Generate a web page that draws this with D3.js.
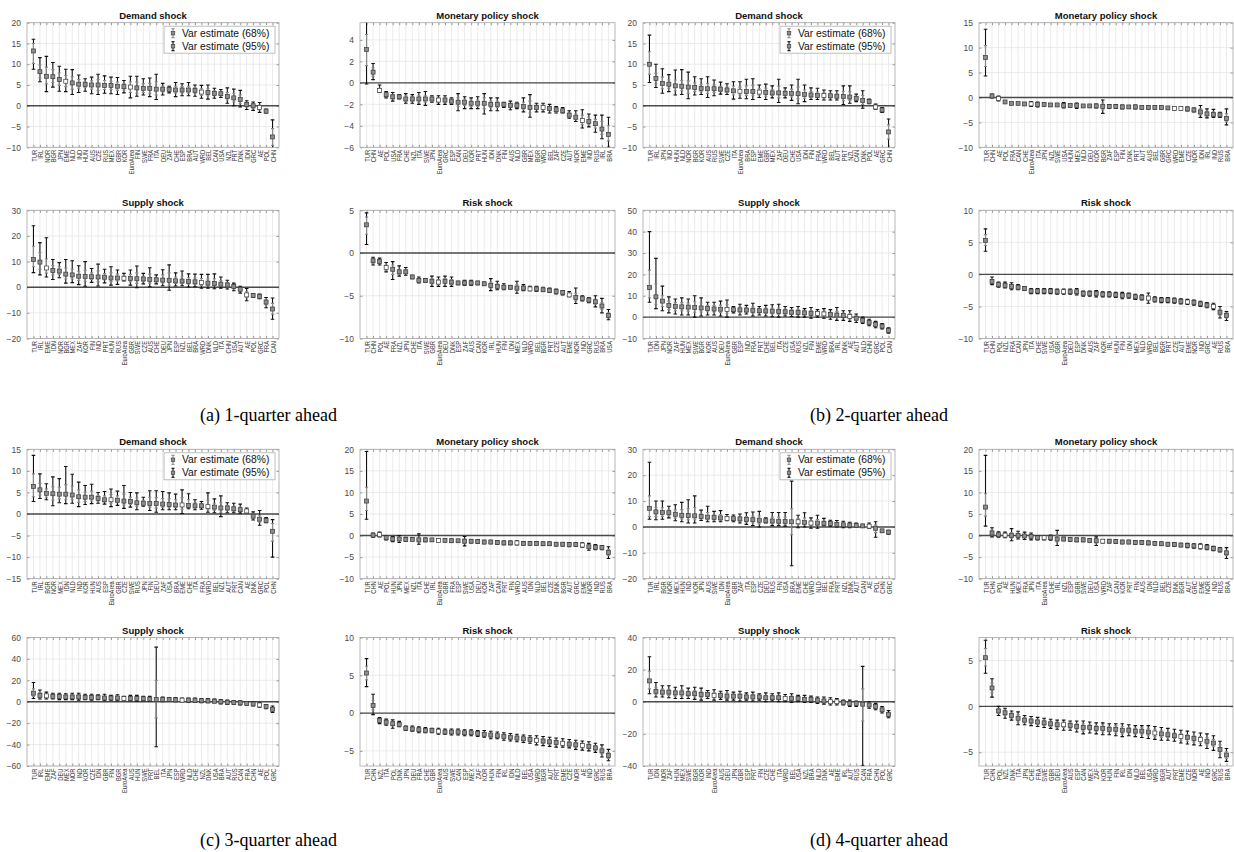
<!DOCTYPE html>
<html><head><meta charset="utf-8">
<script src="https://cdn.jsdelivr.net/npm/d3@7"></script>
<style>body{margin:0;background:#fff}svg{display:block}</style>
</head><body>
<svg id="c" width="1234" height="852"></svg>
<script>
// ---------------- DATA ----------------
// (a) 1-quarter ahead
const a_dem_cty = ["TUR","IRL","NOR","BGR","JPN","EME","NLD","IND","HUN","AUS","CZE","RUS","MEX","GBR","KOR","EuroArea","FIN","SWE","FRA","ITA","DEU","ZAF","CHE","ESP","BRA","AUT","WRD","BEL","CAN","USA","NZL","PRT","DNK","IDN","GRC","AE","POL","CHN"];
const a_dem_est = [13.2,8.2,7.1,7.0,6.3,5.9,5.5,5.2,5.1,5.0,5.0,4.9,4.9,4.7,4.6,4.5,4.3,4.2,4.2,4.0,4.0,3.9,3.8,3.8,3.8,3.7,3.3,3.2,3.0,2.9,2.2,1.9,1.5,0.3,0.0,-0.4,-1.3,-7.5];
const a_dem_lo95 = [8.8,5.8,3.4,4.5,3.5,3.4,2.7,3.2,3.5,2.9,2.7,3.0,2.9,2.7,3.1,1.9,2.3,2.6,2.2,1.5,2.6,3.1,2.2,2.4,2.4,2.3,1.8,1.6,1.8,2.0,0.6,0.0,-0.3,-0.9,-1.1,-1.6,-1.7,-10.5];
const a_dem_hi95 = [16.0,11.6,11.9,10.4,9.5,8.8,8.7,7.4,6.5,6.9,7.6,7.2,6.9,6.8,6.1,7.1,7.1,6.5,6.7,7.6,5.4,4.7,5.6,5.3,5.6,5.0,4.9,5.0,4.2,3.9,4.3,4.0,3.7,1.2,0.9,0.8,-0.8,-3.4];
const a_dem_lo68 = [10.2,6.7,5.3,5.6,4.9,4.6,4.0,4.2,4.4,4.0,3.7,3.9,3.9,3.7,3.8,3.2,3.0,3.2,3.0,2.6,3.3,3.5,3.0,3.1,3.0,3.0,2.5,2.4,2.4,2.4,1.4,0.9,0.5,-0.3,-0.6,-1.0,-1.5,-9.5];
const a_dem_hi68 = [15.0,9.8,9.3,8.7,7.9,7.3,7.0,6.3,5.8,6.0,6.3,6.1,5.9,5.7,5.3,5.8,5.7,5.3,5.4,5.8,4.7,4.3,4.7,4.6,4.7,4.4,4.1,4.1,3.6,3.4,3.2,3.0,2.6,0.8,0.5,0.2,-1.0,-5.5];

const a_mon_cty = ["TUR","CHN","AE","POL","USA","FRA","CHE","NZL","ITA","SWE","JPN","EuroArea","GRC","ESP","CAN","DEU","KOR","PRT","HUN","IDN","DNK","FIN","AUS","NLD","GBR","MEX","BGR","WRD","BEL","ZAF","CZE","AUT","NOR","EME","IND","RUS","IRL","BRA"];
const a_mon_est = [3.1,1.0,-0.7,-1.1,-1.3,-1.3,-1.5,-1.5,-1.5,-1.5,-1.5,-1.6,-1.6,-1.7,-1.8,-1.8,-1.9,-1.9,-1.9,-2.0,-2.0,-2.0,-2.1,-2.1,-2.2,-2.3,-2.3,-2.3,-2.4,-2.5,-2.6,-3.0,-3.2,-3.5,-3.6,-3.8,-4.3,-4.8];
const a_mon_lo95 = [-0.1,0.3,-0.9,-1.4,-1.7,-1.5,-1.9,-1.9,-2.0,-2.1,-1.8,-2.0,-2.0,-2.0,-2.6,-2.4,-2.4,-2.4,-2.9,-2.6,-2.6,-2.3,-2.5,-2.4,-2.7,-3.2,-2.7,-2.7,-2.8,-2.8,-2.8,-3.3,-3.6,-4.2,-4.1,-4.6,-5.2,-6.0];
const a_mon_hi95 = [5.8,1.8,-0.2,-0.8,-0.9,-1.1,-1.0,-1.1,-0.9,-0.8,-1.2,-1.2,-1.2,-1.4,-1.0,-1.3,-1.4,-1.3,-1.0,-1.4,-1.4,-1.8,-1.7,-1.8,-1.4,-1.1,-1.9,-1.9,-2.0,-2.2,-2.3,-2.6,-2.6,-2.5,-2.9,-3.0,-3.0,-3.2];
const a_mon_lo68 = [1.6,0.6,-0.8,-1.3,-1.5,-1.4,-1.7,-1.7,-1.8,-1.8,-1.7,-1.8,-1.8,-1.9,-2.2,-2.1,-2.2,-2.2,-2.4,-2.3,-2.3,-2.2,-2.3,-2.3,-2.5,-2.8,-2.5,-2.5,-2.6,-2.7,-2.7,-3.2,-3.4,-3.9,-3.9,-4.2,-4.8,-5.4];
const a_mon_hi68 = [4.5,1.4,-0.5,-0.9,-1.1,-1.2,-1.2,-1.3,-1.2,-1.2,-1.3,-1.4,-1.4,-1.5,-1.4,-1.5,-1.6,-1.6,-1.4,-1.7,-1.7,-1.9,-1.9,-1.9,-1.8,-1.7,-2.1,-2.1,-2.2,-2.3,-2.4,-2.8,-2.9,-3.0,-3.2,-3.4,-3.6,-4.0];

const a_sup_cty = ["TUR","IRL","EME","IDN","NOR","BGR","MEX","ZAF","KOR","FIN","IND","PRT","HUN","RUS","EuroArea","GBR","SWE","CZE","AUS","CHE","DEU","JPN","ESP","NZL","BEL","BRA","WRD","DNK","NLD","ITA","CHN","USA","AUT","AE","POL","GRC","FRA","CAN"];
const a_sup_est = [10.8,9.8,7.5,6.5,6.3,5.1,4.8,4.3,4.2,4.1,4.0,3.9,3.6,3.6,3.5,3.4,3.3,3.2,3.0,2.9,2.8,2.7,2.5,2.4,2.2,2.1,1.8,1.6,1.5,1.2,0.9,0.3,-0.8,-3.0,-3.2,-3.6,-5.8,-8.5];
const a_sup_lo95 = [5.7,4.8,4.0,3.0,3.7,1.6,1.8,1.0,0.4,1.9,0.5,1.7,0.8,1.1,2.4,0.8,-0.2,1.3,0.2,1.3,0.6,-1.2,0.5,0.6,0.1,0.2,-0.4,-0.4,-0.6,-0.4,-0.7,-1.4,-2.3,-5.3,-4.0,-4.5,-8.0,-12.5];
const a_sup_hi95 = [24.0,17.4,19.3,10.8,9.6,10.8,10.3,8.4,10.0,7.3,9.0,7.0,8.0,6.7,5.4,6.7,8.3,5.4,7.6,4.8,6.8,8.7,5.6,6.3,5.2,5.1,5.0,5.0,5.2,4.0,2.7,1.6,0.4,-0.5,-2.5,-2.7,-4.0,-4.2];
const a_sup_lo68 = [8.0,7.0,5.5,4.8,5.0,3.2,3.2,2.6,2.3,3.0,2.2,2.8,2.2,2.4,2.9,2.1,1.5,2.2,1.6,2.1,1.7,0.8,1.5,1.5,1.2,1.2,0.7,0.6,0.5,0.4,0.1,-0.6,-1.5,-4.1,-3.6,-4.0,-6.8,-10.5];
const a_sup_hi68 = [16.0,13.5,11.0,8.5,8.0,7.5,7.0,6.2,6.6,5.6,6.3,5.3,5.6,5.1,4.4,5.0,5.6,4.3,5.1,3.8,4.8,5.6,4.0,4.3,3.7,3.6,3.4,3.2,3.3,2.6,1.8,1.0,-0.2,-1.8,-2.8,-3.1,-4.9,-6.3];

const a_risk_cty = ["TUR","CHN","POL","AE","FRA","NZL","JPN","CHE","ITA","SWE","GBR","EuroArea","DEU","DNK","ESP","ZAF","AUS","CAN","KOR","IRL","HUN","FIN","IDN","MEX","NLD","WRD","BEL","BGR","PRT","CZE","AUT","EME","NOR","IND","GRC","RUS","BRA","USA"];
const a_risk_est = [3.3,-0.9,-1.0,-1.7,-1.9,-2.2,-2.2,-2.8,-3.2,-3.2,-3.3,-3.4,-3.3,-3.4,-3.5,-3.5,-3.5,-3.5,-3.6,-3.8,-3.9,-4.0,-4.0,-4.1,-4.1,-4.2,-4.2,-4.3,-4.4,-4.5,-4.6,-4.9,-5.2,-5.3,-5.5,-5.7,-6.2,-7.3];
const a_risk_lo95 = [1.0,-1.4,-1.4,-2.2,-3.1,-2.7,-2.6,-3.0,-3.5,-3.4,-3.9,-3.9,-3.9,-3.9,-3.7,-3.8,-3.8,-3.7,-3.8,-4.4,-4.3,-4.3,-4.2,-4.7,-4.4,-4.4,-4.5,-4.5,-4.6,-4.8,-4.9,-5.1,-5.9,-5.6,-5.8,-6.3,-7.0,-7.8];
const a_risk_hi95 = [4.7,-0.5,-0.6,-1.1,-1.0,-1.5,-1.7,-2.6,-2.8,-3.0,-2.7,-2.8,-2.7,-2.8,-3.3,-3.2,-3.2,-3.3,-3.4,-3.0,-3.3,-3.6,-3.8,-3.3,-3.7,-3.9,-3.9,-4.0,-4.1,-4.2,-4.4,-4.5,-4.1,-5.0,-5.2,-5.0,-5.3,-6.6];
const a_risk_lo68 = [2.2,-1.2,-1.2,-2.0,-2.5,-2.5,-2.4,-2.9,-3.4,-3.3,-3.6,-3.7,-3.6,-3.7,-3.6,-3.7,-3.7,-3.6,-3.7,-4.1,-4.1,-4.2,-4.1,-4.4,-4.3,-4.3,-4.4,-4.4,-4.5,-4.7,-4.8,-5.0,-5.6,-5.5,-5.7,-6.0,-6.6,-7.6];
const a_risk_hi68 = [4.2,-0.7,-0.8,-1.4,-1.4,-1.9,-2.0,-2.7,-3.0,-3.1,-3.0,-3.1,-3.0,-3.1,-3.4,-3.3,-3.3,-3.4,-3.5,-3.4,-3.6,-3.8,-3.9,-3.7,-3.9,-4.0,-4.0,-4.1,-4.2,-4.3,-4.5,-4.7,-4.7,-5.1,-5.3,-5.4,-5.8,-7.0];

// (b) 2-quarter ahead
const b_dem_cty = ["TUR","IRL","JPN","IND","HUN","NLD","NOR","BGR","KOR","AUS","RUS","SWE","CZE","ITA","EuroArea","BRA","ESP","EME","GBR","MEX","ZAF","DEU","CHE","USA","IDN","FIN","FRA","WRD","BEL","AUT","PRT","NZL","CAN","DNK","POL","AE","GRC","CHN"];
const b_dem_est = [10.0,6.6,5.4,5.2,4.8,4.7,4.5,4.4,4.2,4.1,4.1,4.0,3.8,3.6,3.5,3.4,3.4,3.3,3.2,3.1,3.1,3.0,3.0,2.9,2.7,2.6,2.5,2.5,2.4,2.3,2.2,2.1,1.8,1.3,1.0,-0.3,-1.0,-6.3];
const b_dem_lo95 = [5.6,4.4,3.0,3.4,2.6,2.7,1.7,2.6,2.7,2.0,2.4,2.8,2.7,1.6,1.8,1.7,1.5,2.0,1.5,1.9,0.8,1.9,1.3,0.5,1.0,1.5,1.5,1.4,1.4,1.4,0.3,0.6,1.0,-0.6,0.5,-0.8,-1.6,-10.5];
const b_dem_hi95 = [17.0,10.0,8.9,7.5,8.6,8.7,8.1,7.0,6.5,7.0,6.2,5.7,5.3,5.8,5.8,6.4,6.5,5.0,5.2,4.8,6.4,4.3,5.0,6.4,5.0,4.3,4.2,3.8,3.6,3.6,4.8,4.8,2.8,3.6,1.6,0.4,-0.4,-3.2];
const b_dem_lo68 = [7.6,5.3,4.1,4.2,3.6,3.6,3.0,3.4,3.4,3.0,3.2,3.4,3.2,2.6,2.6,2.5,2.4,2.6,2.3,2.5,1.9,2.4,2.1,1.7,1.8,2.0,2.0,1.9,1.9,1.8,1.2,1.3,1.4,0.3,0.7,-0.5,-1.3,-8.0];
const b_dem_hi68 = [13.0,7.8,6.9,6.2,6.2,6.1,6.0,5.5,5.2,5.4,5.0,4.7,4.5,4.7,4.5,4.8,4.9,4.1,4.2,3.9,4.7,3.6,4.0,4.5,3.8,3.4,3.3,3.1,3.0,2.9,3.5,3.4,2.3,2.5,1.3,0.1,-0.7,-4.6];

const b_mon_cty = ["TUR","CHN","AE","POL","FRA","CAN","CHE","EuroArea","ITA","JPN","NZL","SWE","USA","HUN","MEX","NLD","DEU","KOR","BGR","ZAF","ESP","FIN","DNK","PRT","AUT","AUS","BEL","GBR","GRC","WRD","EME","CZE","NOR","IDN","IRL","IND","RUS","BRA"];
const b_mon_est = [8.0,0.3,-0.2,-0.9,-1.2,-1.2,-1.3,-1.3,-1.4,-1.4,-1.5,-1.5,-1.6,-1.6,-1.6,-1.7,-1.7,-1.7,-1.8,-1.8,-1.8,-1.9,-1.9,-1.9,-2.0,-2.0,-2.0,-2.0,-2.1,-2.2,-2.2,-2.3,-2.5,-2.9,-3.3,-3.4,-3.5,-4.2];
const b_mon_lo95 = [4.3,-0.1,-0.7,-1.1,-1.4,-1.4,-1.5,-1.8,-1.9,-1.7,-1.8,-1.8,-2.1,-1.9,-2.2,-2.0,-2.0,-2.1,-3.2,-2.2,-2.2,-2.3,-2.2,-2.3,-2.3,-2.3,-2.3,-2.3,-2.4,-2.5,-2.5,-2.7,-2.9,-4.0,-4.1,-4.0,-4.0,-5.5];
const b_mon_hi95 = [13.7,0.7,0.3,-0.7,-1.0,-1.0,-1.0,-0.8,-0.9,-1.1,-1.2,-1.2,-1.0,-1.3,-1.1,-1.4,-1.4,-1.3,-0.5,-1.4,-1.4,-1.5,-1.6,-1.5,-1.7,-1.7,-1.7,-1.7,-1.8,-1.9,-1.9,-1.9,-2.1,-1.6,-2.3,-2.4,-3.0,-2.3];
const b_mon_lo68 = [6.2,0.1,-0.5,-1.0,-1.3,-1.3,-1.4,-1.6,-1.7,-1.6,-1.7,-1.7,-1.9,-1.8,-1.9,-1.9,-1.9,-1.9,-2.5,-2.0,-2.0,-2.1,-2.1,-2.1,-2.2,-2.2,-2.2,-2.2,-2.3,-2.4,-2.4,-2.5,-2.7,-3.5,-3.7,-3.7,-3.8,-4.9];
const b_mon_hi68 = [10.4,0.5,0.1,-0.8,-1.1,-1.1,-1.2,-1.0,-1.1,-1.2,-1.3,-1.3,-1.3,-1.4,-1.3,-1.5,-1.5,-1.5,-1.1,-1.6,-1.6,-1.7,-1.7,-1.7,-1.8,-1.8,-1.8,-1.8,-1.9,-2.0,-2.0,-2.1,-2.3,-2.3,-2.8,-2.9,-3.2,-3.3];

const b_sup_cty = ["TUR","IDN","JPN","NOR","ZAF","HUN","MEX","SWE","BGR","KOR","AUS","DEU","EuroArea","GBR","ESP","IND","FRA","PRT","CHE","BEL","ITA","CZE","USA","RUS","NZL","FIN","EME","WRD","BRA","IRL","DNK","AE","AUT","NLD","CHN","GRC","POL","CAN"];
const b_sup_est = [13.8,9.5,7.5,5.5,5.0,4.8,4.7,4.5,4.3,4.0,3.8,3.7,3.6,3.5,3.4,3.3,3.2,3.0,2.9,2.8,2.7,2.5,2.3,2.2,2.0,1.8,1.7,1.5,1.2,1.0,0.8,0.3,-0.5,-1.5,-2.5,-3.5,-4.2,-6.2];
const b_sup_lo95 = [7,4,3,2,1.5,1,1,0,0.5,1,1,0.5,0,2,1,1.5,0.5,1,0.5,0.2,0,0.5,0.3,0,0,-0.5,0,-0.5,-1,-1.5,-1.5,-2,-2.5,-3,-4,-5,-5.5,-7.5];
const b_sup_hi95 = [40,27.5,14.5,9.5,8.5,9,8.5,10,9,7,7,7.5,8,5,6,5.5,6.5,5,5.5,5.8,6,5,4.5,5,4,4.5,3.5,4,3.5,4.5,3,3,1.5,0,-1,-2,-3,-5];
const b_sup_lo68 = [9,6,5,3.5,3,3,2.8,2.3,2.4,2.5,2.4,2.1,1.8,2.7,2.2,2.4,1.8,2,1.7,1.5,1.4,1.5,1.3,1.1,1,0.7,0.8,0.5,0.1,-0.2,-0.3,-0.8,-1.5,-2.2,-3.2,-4.2,-4.8,-6.8];
const b_sup_hi68 = [22,15.5,10,7.5,6.8,6.8,6.6,7.2,6.6,5.5,5.4,5.6,5.8,4.2,4.7,4.4,4.8,4,4.2,4.3,4.3,3.7,3.4,3.6,3,3.1,2.6,2.7,2.3,2.7,1.9,1.6,0.5,-0.7,-1.7,-2.7,-3.6,-5.6];

const b_risk_cty = ["TUR","CHN","POL","NZL","FRA","CAN","JPN","ITA","CHE","SWE","USA","GBR","EuroArea","DEU","ESP","DNK","AUS","ZAF","KOR","IRL","HUN","FIN","IDN","MEX","NLD","WRD","BEL","BGR","PRT","CZE","AUT","EME","NOR","IND","GRC","AE","RUS","BRA"];
const b_risk_est = [5.3,-1.1,-1.6,-1.7,-1.9,-2.0,-2.2,-2.6,-2.6,-2.6,-2.6,-2.7,-2.7,-2.7,-2.7,-3.0,-3.0,-3.0,-3.1,-3.1,-3.2,-3.3,-3.3,-3.5,-3.6,-3.7,-3.9,-4.0,-4.0,-4.1,-4.2,-4.3,-4.4,-4.6,-4.8,-5.0,-5.9,-6.4];
const b_risk_lo95 = [3.6,-1.6,-2.0,-2.1,-2.4,-2.4,-2.5,-3.0,-3.0,-3.0,-3.0,-3.1,-3.1,-3.1,-3.2,-3.4,-3.4,-3.5,-3.5,-3.5,-3.6,-3.8,-3.7,-3.9,-4.0,-4.5,-4.3,-4.4,-4.4,-4.5,-4.6,-4.7,-4.8,-5.0,-5.2,-5.5,-6.8,-7.2];
const b_risk_hi95 = [7.1,-0.4,-1.2,-1.2,-1.3,-1.6,-1.9,-2.2,-2.2,-2.2,-2.2,-2.3,-2.3,-2.3,-2.2,-2.6,-2.6,-2.5,-2.7,-2.7,-2.8,-2.8,-2.9,-3.1,-3.2,-2.9,-3.5,-3.6,-3.6,-3.7,-3.8,-3.9,-4.0,-4.2,-4.4,-4.5,-5.0,-5.8];
const b_risk_lo68 = [4.5,-1.4,-1.8,-1.9,-2.2,-2.2,-2.4,-2.8,-2.8,-2.8,-2.8,-2.9,-2.9,-2.9,-3.0,-3.2,-3.2,-3.3,-3.3,-3.3,-3.4,-3.6,-3.5,-3.7,-3.8,-4.1,-4.1,-4.2,-4.2,-4.3,-4.4,-4.5,-4.6,-4.8,-5.0,-5.3,-6.4,-6.8];
const b_risk_hi68 = [6.2,-0.8,-1.4,-1.5,-1.6,-1.8,-2.0,-2.4,-2.4,-2.4,-2.4,-2.5,-2.5,-2.5,-2.4,-2.8,-2.8,-2.7,-2.9,-2.9,-3.0,-3.0,-3.1,-3.3,-3.4,-3.3,-3.7,-3.8,-3.8,-3.9,-4.0,-4.1,-4.2,-4.4,-4.6,-4.7,-5.4,-6.0];

// (c) 3-quarter ahead
const c_dem_cty = ["TUR","IRL","BGR","NOR","MEX","IDN","NLD","IND","KOR","HUN","AUS","ESP","EuroArea","GBR","CZE","SWE","RUS","JPN","FIN","DEU","ZAF","USA","BRA","EME","CHE","ITA","FRA","WRD","BEL","NZL","AUT","PRT","CAN","AE","DNK","GRC","POL","CHN"];
const c_dem_est = [6.4,5.6,4.8,4.7,4.6,4.6,4.4,4.0,3.9,3.9,3.6,3.3,3.3,3.2,3.0,2.9,2.6,2.5,2.4,2.4,2.3,2.2,2.1,2.1,2.0,1.9,1.9,1.7,1.6,1.4,1.4,1.2,1.0,0.7,-0.5,-1.2,-1.5,-4.0];
const c_dem_lo95 = [2.9,3.6,3.3,1.9,2.6,2.4,2.5,1.7,2.2,2.4,2.5,2.3,1.7,2.0,1.3,1.6,1.0,1.8,0.8,0.4,1.0,1.0,1.0,0.1,1.2,1.0,1.1,0.4,0.3,-0.6,0.3,0.3,0.2,0.3,-1.4,-2.6,-2.0,-10.0];
const c_dem_hi95 = [13.6,9.3,7.0,8.6,8.2,11.0,9.2,7.4,6.6,6.9,5.0,5.2,5.8,5.3,6.6,5.0,4.9,3.9,5.4,5.4,5.2,4.9,4.6,5.6,4.7,3.3,2.9,4.9,3.5,4.2,2.6,2.5,2.3,1.4,0.5,0.8,-0.8,-1.3];
const c_dem_lo68 = [4.0,4.4,3.9,3.2,3.5,3.3,3.3,2.7,2.9,3.0,3.0,2.8,2.5,2.6,2.1,2.2,1.8,2.1,1.6,1.4,1.6,1.6,1.5,1.1,1.6,1.4,1.5,1.0,0.9,0.4,0.8,0.7,0.6,0.5,-1.0,-1.9,-1.8,-6.3];
const c_dem_hi68 = [9.3,7.1,5.8,6.3,6.2,6.8,6.5,5.6,5.1,5.3,4.3,4.2,4.5,4.2,4.6,3.9,3.7,3.2,3.9,3.8,3.6,3.5,3.3,3.8,3.3,2.6,2.4,3.2,2.5,2.6,2.0,1.8,1.6,1.0,0.0,-0.3,-1.2,-2.2];

const c_mon_cty = ["TUR","CHN","AE","POL","HUN","JPN","MEX","NZL","ITA","CHE","IRL","EuroArea","GBR","FRA","ESP","SWE","USA","DEU","KOR","ZAF","CAN","PRT","FIN","WRD","AUS","IDN","NLD","BEL","CZE","DNK","BGR","AUT","GRC","EME","NOR","IND","RUS","BRA"];
const c_mon_est = [8.0,0.1,0.2,-0.5,-0.8,-0.8,-0.9,-0.9,-1.0,-1.0,-1.0,-1.1,-1.1,-1.2,-1.2,-1.3,-1.3,-1.4,-1.5,-1.5,-1.6,-1.7,-1.7,-1.7,-1.8,-1.8,-1.8,-1.9,-1.9,-2.0,-2.0,-2.1,-2.1,-2.2,-2.6,-2.7,-2.8,-3.9];
const c_mon_lo95 = [3.8,-0.4,-0.3,-1.0,-1.4,-1.6,-1.3,-1.2,-2.0,-1.4,-1.3,-1.4,-1.4,-1.6,-1.5,-2.4,-1.7,-1.8,-1.9,-1.9,-2.0,-2.1,-2.1,-2.2,-2.2,-2.2,-2.2,-2.3,-2.3,-2.4,-2.4,-2.6,-2.5,-2.7,-3.4,-3.3,-3.3,-5.3];
const c_mon_hi95 = [19.5,0.6,0.8,0.0,-0.2,0.0,-0.4,-0.5,0.4,-0.6,-0.7,-0.7,-0.8,-0.8,-0.9,-0.2,-0.9,-1.0,-1.1,-1.1,-1.2,-1.3,-1.3,-1.2,-1.4,-1.4,-1.4,-1.5,-1.5,-1.6,-1.6,-1.6,-1.7,-1.7,-1.8,-2.1,-2.3,-2.6];
const c_mon_lo68 = [5.8,-0.2,-0.1,-0.8,-1.1,-1.2,-1.1,-1.1,-1.5,-1.2,-1.2,-1.3,-1.3,-1.4,-1.4,-1.9,-1.5,-1.6,-1.7,-1.7,-1.8,-1.9,-1.9,-2.0,-2.0,-2.0,-2.0,-2.1,-2.1,-2.2,-2.2,-2.4,-2.3,-2.5,-3.0,-3.0,-3.1,-4.6];
const c_mon_hi68 = [11.2,0.4,0.5,-0.2,-0.5,-0.4,-0.7,-0.7,-0.5,-0.8,-0.8,-0.9,-0.9,-1.0,-1.0,-0.8,-1.1,-1.2,-1.3,-1.3,-1.4,-1.5,-1.5,-1.4,-1.6,-1.6,-1.6,-1.7,-1.7,-1.8,-1.8,-1.8,-1.9,-1.9,-2.2,-2.4,-2.5,-3.2];

const c_sup_cty = ["TUR","IRL","EME","ZAF","DEU","MEX","NOR","IND","KOR","CZE","IDN","GBR","FIN","BGR","EuroArea","AUS","HUN","SWE","PRT","BEL","ITA","JPN","ESP","WRD","NLD","CHE","NZL","DNK","USA","BRA","AUT","RUS","CAN","FRA","CHN","AE","POL","GRC"];
const c_sup_est = [8,6,5.5,5,5,4.5,4.5,4.5,4,4,4,3.5,3.5,3.5,3,3,3,2.8,2.5,2,2,2,1.8,1.5,1.5,1.2,1,0.8,0.5,0,-0.5,-0.8,-1,-1.5,-2,-3,-4.5,-7];
const c_sup_lo95 = [3,2.5,2.5,2.5,2,2,2,1.5,2,1.5,2,1,1.5,1,1.5,1,0.5,1,0.5,-42,0,0.5,0,0,-0.5,-0.5,-1,-1,-1,-2,-2.5,-2.5,-3,-3,-4,-5,-6.5,-10];
const c_sup_hi95 = [18,11,9,8,8,7.5,8,8,7,7,6.5,7,6,6.5,5,6,6,5,5,51,4.5,4,4,3.5,3.5,3.5,3,3,2.5,2,1.5,1,1,0,0,-1,-2.5,-4];
const c_sup_lo68 = [5,4,4,3.8,3.5,3.3,3.3,3,3,2.8,3,2.3,2.5,2.3,2.3,2,1.8,1.9,1.5,-15,1,1.2,0.9,0.8,0.5,0.4,0,-0.1,-0.3,-1,-1.5,-1.7,-2,-2.3,-3,-4,-5.5,-8.5];
const c_sup_hi68 = [12,8.5,7.2,6.5,6.5,6,6.2,6.2,5.5,5.5,5.2,5.2,4.8,5,4,4.5,4.5,3.9,3.8,20,3.2,3,2.9,2.5,2.5,2.3,2,1.9,1.5,1,0.5,0.1,0,-0.8,-1,-2,-3.5,-5.5];

const c_risk_cty = ["TUR","CHN","NZL","ITA","POL","DNK","JPN","DEU","FRA","CHE","GBR","EuroArea","AUS","SWE","CAN","ESP","MEX","ZAF","KOR","HUN","FIN","IRL","IDN","NLD","BEL","USA","WRD","BGR","AUT","PRT","EME","CZE","NOR","AE","IND","GRC","RUS","BRA"];
const c_risk_est = [5.3,1.0,-1.0,-1.2,-1.4,-1.5,-2.0,-2.1,-2.2,-2.3,-2.3,-2.4,-2.5,-2.5,-2.5,-2.6,-2.6,-2.7,-2.8,-2.9,-3.0,-3.1,-3.2,-3.3,-3.4,-3.5,-3.6,-3.7,-3.8,-3.9,-4.0,-4.1,-4.2,-4.3,-4.4,-4.6,-5.0,-5.6];
const c_risk_lo95 = [3.5,-0.2,-1.4,-1.6,-2.0,-1.8,-2.3,-2.4,-2.6,-2.6,-2.6,-2.8,-2.8,-2.9,-2.9,-3.0,-3.0,-3.1,-3.2,-3.4,-3.4,-3.6,-3.7,-3.8,-3.9,-4.0,-4.2,-4.3,-4.4,-4.5,-4.5,-4.6,-4.8,-4.9,-5.0,-5.2,-5.8,-6.3];
const c_risk_hi95 = [7.2,2.5,-0.6,-0.8,-0.9,-1.1,-1.7,-1.7,-1.8,-1.9,-2.0,-2.0,-2.1,-2.1,-2.1,-2.2,-2.2,-2.3,-2.3,-2.4,-2.5,-2.6,-2.7,-2.8,-2.9,-3.0,-3.0,-3.1,-3.2,-3.3,-3.4,-3.5,-3.6,-3.7,-3.8,-4.0,-4.2,-4.8];
const c_risk_lo68 = [4.4,0.4,-1.2,-1.4,-1.7,-1.7,-2.2,-2.3,-2.4,-2.5,-2.5,-2.6,-2.7,-2.7,-2.7,-2.8,-2.8,-2.9,-3.0,-3.2,-3.2,-3.4,-3.5,-3.6,-3.7,-3.8,-3.9,-4.0,-4.1,-4.2,-4.3,-4.4,-4.5,-4.6,-4.7,-4.9,-5.4,-6.0];
const c_risk_hi68 = [6.2,1.7,-0.8,-1.0,-1.1,-1.3,-1.8,-1.9,-2.0,-2.1,-2.1,-2.2,-2.3,-2.3,-2.3,-2.4,-2.4,-2.5,-2.6,-2.7,-2.8,-2.9,-3.0,-3.0,-3.1,-3.2,-3.3,-3.4,-3.5,-3.6,-3.7,-3.8,-3.9,-4.0,-4.1,-4.3,-4.6,-5.2];

// (d) 4-quarter ahead
const d_dem_cty = ["TUR","IRL","BGR","NOR","MEX","HUN","IND","KOR","JPN","AUS","SWE","IDN","EuroArea","GBR","ZAF","ITA","ESP","CZE","DEU","RUS","FIN","USA","BRA","EME","CHE","WRD","NLD","BEL","FRA","PRT","NZL","DNK","AUT","CAN","AE","POL","CHN","GRC"];
const d_dem_est = [7.2,5.8,5.6,5.5,4.9,4.5,4.4,4.3,4.0,3.8,3.6,3.5,3.3,3.2,3.1,2.9,2.8,2.6,2.4,2.3,2.2,2.1,2.0,2.0,1.8,1.5,1.5,1.4,1.3,1.0,0.8,0.7,0.5,0.4,0.3,-0.5,-1.5,-2.0];
const d_dem_lo95 = [3.0,2.8,3.0,3.5,2.4,2.0,1.5,1.5,2.5,2.0,2.0,2.0,2.4,2.0,1.5,1.0,0.5,0.0,1.5,0.5,0.5,0.3,-15.0,-0.3,0.0,-0.5,-0.5,0.5,0.3,0.0,-0.3,-0.3,0.0,-0.2,-0.5,-4.0,-2.0,-2.8];
const d_dem_hi95 = [25.0,10.0,10.0,8.0,8.6,9.5,10.5,12.0,6.5,8.0,6.0,6.3,4.8,4.6,5.0,5.5,5.8,6.0,3.5,5.6,5.6,5.6,17.7,4.5,5.5,3.5,4.5,3.3,2.6,2.5,2.2,1.8,1.5,1.0,1.5,2.0,-1.0,-1.3];
const d_dem_lo68 = [4.0,4.0,4.1,4.3,3.4,3.1,2.8,2.8,3.1,2.8,2.7,2.6,2.8,2.5,2.2,1.8,1.5,1.2,1.9,1.3,1.3,1.2,-3.0,0.9,0.8,0.5,0.5,0.9,0.8,0.5,0.2,0.2,0.2,0.1,-0.1,-2.2,-1.7,-2.4];
const d_dem_hi68 = [12.0,7.6,7.4,6.6,6.6,6.7,7.0,7.5,5.1,5.6,4.7,4.8,4.0,3.9,4.0,4.0,4.2,4.2,2.9,3.8,3.8,3.7,7.0,3.2,3.5,2.5,2.9,2.3,1.9,1.7,1.5,1.2,1.0,0.7,0.9,0.8,-1.3,-1.6];

const d_mon_cty = ["TUR","CHN","POL","AE","HUN","MEX","FRA","JPN","ITA","EuroArea","CHE","IRL","NZL","ESP","GBR","SWE","DEU","USA","WRD","ZAF","CAN","KOR","PRT","FIN","AUS","IDN","NLD","BEL","CZE","DNK","BGR","AUT","GRC","EME","NOR","IND","RUS","BRA"];
const d_mon_est = [6.6,0.6,0.2,0.1,0.0,0.0,-0.1,-0.2,-0.5,-0.5,-0.5,-0.8,-0.8,-0.9,-1.0,-1.0,-1.1,-1.2,-1.3,-1.3,-1.4,-1.5,-1.5,-1.6,-1.6,-1.7,-1.8,-1.9,-2.0,-2.1,-2.2,-2.3,-2.4,-2.5,-2.7,-3.0,-3.3,-4.0];
const d_mon_lo95 = [2.2,-0.3,-0.4,-0.5,-1.2,-0.8,-0.9,-1.0,-1.0,-1.0,-1.1,-2.3,-1.2,-1.3,-1.4,-1.4,-1.5,-2.3,-1.7,-1.7,-1.8,-1.9,-1.9,-2.0,-2.0,-2.1,-2.2,-2.3,-2.4,-2.5,-2.6,-2.8,-2.9,-3.1,-3.3,-3.5,-3.8,-5.3];
const d_mon_hi95 = [18.6,1.8,0.9,0.8,1.6,1.0,0.8,0.6,0.0,0.0,0.1,1.2,-0.4,-0.5,-0.6,-0.6,-0.7,-0.3,-0.9,-0.9,-1.0,-1.1,-1.1,-1.2,-1.2,-1.3,-1.4,-1.5,-1.6,-1.7,-1.8,-1.8,-1.9,-1.9,-2.1,-2.5,-2.8,-2.8];
const d_mon_lo68 = [4.5,0.1,-0.1,-0.2,-0.6,-0.4,-0.5,-0.6,-0.8,-0.8,-0.8,-1.5,-1.0,-1.1,-1.2,-1.2,-1.3,-1.7,-1.5,-1.5,-1.6,-1.7,-1.7,-1.8,-1.8,-1.9,-2.0,-2.1,-2.2,-2.3,-2.4,-2.5,-2.6,-2.8,-3.0,-3.2,-3.5,-4.6];
const d_mon_hi68 = [9.7,1.2,0.5,0.4,0.7,0.5,0.3,0.2,-0.2,-0.2,-0.2,0.1,-0.6,-0.7,-0.8,-0.8,-0.9,-0.7,-1.1,-1.1,-1.2,-1.3,-1.3,-1.4,-1.4,-1.5,-1.6,-1.7,-1.8,-1.9,-2.0,-2.1,-2.2,-2.2,-2.4,-2.7,-3.0,-3.4];

const d_sup_cty = ["TUR","IDN","NOR","ZAF","HUN","MEX","SWE","BGR","KOR","IND","EuroArea","AUS","DEU","JPN","GBR","ESP","PRT","FIN","CZE","CHE","ITA","WRD","BEL","USA","NZL","BRA","NLD","DNK","AE","EME","IRL","AUT","RUS","CAN","FRA","CHN","POL","GRC"];
const d_sup_est = [13,6.5,6,6,5.5,5.5,5,5,4.5,4.5,4,4,3.5,3.5,3.5,3,3,3,2.5,2.5,2.5,2,2,2,1.5,1.5,1,0.5,0,0,-0.5,-1,-1,-1.5,-2,-3,-5,-8];
const d_sup_lo95 = [5,3,3,2.5,2,2,2,1.5,1,2,1,1.5,1,1,0.5,1,0.5,1,0,0.5,0,0,-0.5,0,-0.5,-0.5,-1,-1.5,-2,-2,-2,-3,-3,-40,-4,-5,-7,-10];
const d_sup_hi95 = [28,12,10,10,9,10,8.5,9,8.5,7,7.5,6.5,7,6,6.5,5.5,6,5,5.5,5,5.5,4.5,5,4,4,3.5,3,3,2.5,2,1,1,0.5,22,0,-1,-3,-5.5];
const d_sup_lo68 = [8,4.5,4.3,4,3.5,3.5,3.4,3,2.7,3.2,2.5,2.7,2.2,2.2,2,2,1.7,2,1.2,1.5,1.2,1,0.7,1,0.5,0.5,0,-0.5,-1,-1,-1.2,-2,-2,-12,-3,-4,-6,-9];
const d_sup_hi68 = [19,9,8,7.8,7.2,7.5,6.7,7,6.5,5.8,5.8,5.3,5.2,4.8,5,4.3,4.5,4,4,3.8,4,3.3,3.5,3,2.8,2.5,2,1.7,1.2,1,0.3,0,-0.2,8,-1,-2,-4,-7];

const d_risk_cty = ["TUR","CHN","POL","NZL","DNK","ITA","JPN","CHE","FRA","SWE","GBR","DEU","EuroArea","AUS","ESP","CAN","MEX","ZAF","KOR","HUN","FIN","IRL","IDN","NLD","BEL","USA","WRD","BGR","AUT","PRT","EME","CZE","NOR","AE","IND","GRC","RUS","BRA"];
const d_risk_est = [5.3,2.0,-0.5,-0.7,-1.0,-1.3,-1.5,-1.6,-1.7,-1.8,-1.9,-2.0,-2.0,-2.1,-2.2,-2.3,-2.3,-2.4,-2.4,-2.5,-2.5,-2.6,-2.6,-2.7,-2.7,-2.8,-2.9,-3.0,-3.1,-3.2,-3.3,-3.4,-3.5,-3.6,-3.8,-4.0,-4.7,-5.3];
const d_risk_lo95 = [3.6,1.0,-1.0,-1.3,-1.5,-2.0,-2.0,-2.1,-2.2,-2.3,-2.4,-2.5,-2.6,-2.6,-2.8,-3.0,-2.9,-3.0,-3.1,-3.1,-3.2,-3.3,-3.2,-3.3,-3.4,-3.5,-3.6,-3.7,-3.7,-3.8,-4.0,-4.1,-4.2,-4.3,-4.6,-4.8,-5.6,-6.0];
const d_risk_hi95 = [7.2,3.0,0.0,-0.2,-0.5,-0.6,-1.0,-1.1,-1.2,-1.3,-1.4,-1.5,-1.5,-1.6,-1.6,-1.6,-1.7,-1.8,-1.8,-1.9,-1.9,-1.9,-2.0,-2.1,-2.1,-2.1,-2.2,-2.3,-2.4,-2.5,-2.6,-2.7,-2.8,-2.9,-3.0,-3.2,-3.8,-4.6];
const d_risk_lo68 = [4.4,1.5,-0.8,-1.0,-1.3,-1.7,-1.8,-1.9,-2.0,-2.1,-2.2,-2.3,-2.3,-2.4,-2.5,-2.7,-2.6,-2.7,-2.8,-2.8,-2.9,-3.0,-2.9,-3.0,-3.1,-3.2,-3.3,-3.4,-3.4,-3.5,-3.7,-3.8,-3.9,-4.0,-4.2,-4.4,-5.2,-5.7];
const d_risk_hi68 = [6.3,2.5,-0.2,-0.4,-0.7,-0.9,-1.2,-1.3,-1.4,-1.5,-1.6,-1.7,-1.7,-1.8,-1.9,-1.9,-2.0,-2.1,-2.0,-2.2,-2.1,-2.2,-2.3,-2.4,-2.3,-2.4,-2.5,-2.6,-2.8,-2.9,-3.0,-3.1,-3.2,-3.3,-3.4,-3.6,-4.2,-4.9];

// axis limits and tick labels
const a_dem_ylim=[-10,20], a_dem_ticks=[-10,-5,0,5,10,15,20];
const a_mon_ylim=[-6,5.6], a_mon_ticks=[-6,-4,-2,0,2,4];
const a_sup_ylim=[-20,30], a_sup_ticks=[-20,-10,0,10,20,30];
const a_risk_ylim=[-10,5], a_risk_ticks=[-10,-5,0,5];
const b_dem_ylim=[-10,20], b_dem_ticks=[-10,-5,0,5,10,15,20];
const b_mon_ylim=[-10,15], b_mon_ticks=[-10,-5,0,5,10,15];
const b_sup_ylim=[-10,50], b_sup_ticks=[-10,0,10,20,30,40,50];
const b_risk_ylim=[-10,10], b_risk_ticks=[-10,-5,0,5,10];
const c_dem_ylim=[-15,15], c_dem_ticks=[-15,-10,-5,0,5,10,15];
const c_mon_ylim=[-10,20], c_mon_ticks=[-10,-5,0,5,10,15,20];
const c_sup_ylim=[-60,60], c_sup_ticks=[-60,-40,-20,0,20,40,60];
const c_risk_ylim=[-7,10], c_risk_ticks=[-5,0,5,10];
const d_dem_ylim=[-20,30], d_dem_ticks=[-20,-10,0,10,20,30];
const d_mon_ylim=[-10,20], d_mon_ticks=[-10,-5,0,5,10,15,20];
const d_sup_ylim=[-40,40], d_sup_ticks=[-40,-20,0,20,40];
const d_risk_ylim=[-6.5,7.5], d_risk_ticks=[-5,0,5];

const titles = ["Demand shock","Monetary policy shock","Supply shock","Risk shock"];
const captions = ["(a) 1-quarter ahead","(b) 2-quarter ahead","(c) 3-quarter ahead","(d) 4-quarter ahead"];
const legendLabels = ["Var estimate (68%)","Var estimate (95%)"];
const aggregates = ["EME","AE","WRD","EuroArea"];

// ---------------- LAYOUT ----------------
const colX = [[27,279],[360,615],[643,895],[979,1233]];
const rowY = [[22.7,147.3],[210.3,338.5],[449.3,578.7],[637.5,766]];
const FONT = "'Liberation Sans', Arial, Helvetica, sans-serif";

const P = (cty,est,lo95,hi95,lo68,hi68,ylim,ticks,title,col,row,legend)=>({cty,est,lo95,hi95,lo68,hi68,ylim,ticks,title,col,row,legend});
const panels = [
 P(a_dem_cty,a_dem_est,a_dem_lo95,a_dem_hi95,a_dem_lo68,a_dem_hi68,a_dem_ylim,a_dem_ticks,titles[0],0,0,true),
 P(a_mon_cty,a_mon_est,a_mon_lo95,a_mon_hi95,a_mon_lo68,a_mon_hi68,a_mon_ylim,a_mon_ticks,titles[1],1,0,false),
 P(a_sup_cty,a_sup_est,a_sup_lo95,a_sup_hi95,a_sup_lo68,a_sup_hi68,a_sup_ylim,a_sup_ticks,titles[2],0,1,false),
 P(a_risk_cty,a_risk_est,a_risk_lo95,a_risk_hi95,a_risk_lo68,a_risk_hi68,a_risk_ylim,a_risk_ticks,titles[3],1,1,false),
 P(b_dem_cty,b_dem_est,b_dem_lo95,b_dem_hi95,b_dem_lo68,b_dem_hi68,b_dem_ylim,b_dem_ticks,titles[0],2,0,true),
 P(b_mon_cty,b_mon_est,b_mon_lo95,b_mon_hi95,b_mon_lo68,b_mon_hi68,b_mon_ylim,b_mon_ticks,titles[1],3,0,false),
 P(b_sup_cty,b_sup_est,b_sup_lo95,b_sup_hi95,b_sup_lo68,b_sup_hi68,b_sup_ylim,b_sup_ticks,titles[2],2,1,false),
 P(b_risk_cty,b_risk_est,b_risk_lo95,b_risk_hi95,b_risk_lo68,b_risk_hi68,b_risk_ylim,b_risk_ticks,titles[3],3,1,false),
 P(c_dem_cty,c_dem_est,c_dem_lo95,c_dem_hi95,c_dem_lo68,c_dem_hi68,c_dem_ylim,c_dem_ticks,titles[0],0,2,true),
 P(c_mon_cty,c_mon_est,c_mon_lo95,c_mon_hi95,c_mon_lo68,c_mon_hi68,c_mon_ylim,c_mon_ticks,titles[1],1,2,false),
 P(c_sup_cty,c_sup_est,c_sup_lo95,c_sup_hi95,c_sup_lo68,c_sup_hi68,c_sup_ylim,c_sup_ticks,titles[2],0,3,false),
 P(c_risk_cty,c_risk_est,c_risk_lo95,c_risk_hi95,c_risk_lo68,c_risk_hi68,c_risk_ylim,c_risk_ticks,titles[3],1,3,false),
 P(d_dem_cty,d_dem_est,d_dem_lo95,d_dem_hi95,d_dem_lo68,d_dem_hi68,d_dem_ylim,d_dem_ticks,titles[0],2,2,true),
 P(d_mon_cty,d_mon_est,d_mon_lo95,d_mon_hi95,d_mon_lo68,d_mon_hi68,d_mon_ylim,d_mon_ticks,titles[1],3,2,false),
 P(d_sup_cty,d_sup_est,d_sup_lo95,d_sup_hi95,d_sup_lo68,d_sup_hi68,d_sup_ylim,d_sup_ticks,titles[2],2,3,false),
 P(d_risk_cty,d_risk_est,d_risk_lo95,d_risk_hi95,d_risk_lo68,d_risk_hi68,d_risk_ylim,d_risk_ticks,titles[3],3,3,false)
];

const svg = d3.select('#c');
svg.append('rect').attr('width',1234).attr('height',852).attr('fill','#fff');
const defs = svg.append('defs');

function errBars(g, x, y, idx, lo, hi, color, cap, w){
  const s = g.append('g').attr('stroke',color).attr('stroke-width',w).attr('fill','none');
  s.selectAll('line.v').data(idx).join('line')
    .attr('x1',i=>x(i+1)).attr('x2',i=>x(i+1)).attr('y1',i=>y(lo[i])).attr('y2',i=>y(hi[i]));
  s.selectAll('line.t').data(idx).join('line')
    .attr('x1',i=>x(i+1)-cap).attr('x2',i=>x(i+1)+cap).attr('y1',i=>y(hi[i])).attr('y2',i=>y(hi[i]));
  s.selectAll('line.b').data(idx).join('line')
    .attr('x1',i=>x(i+1)-cap).attr('x2',i=>x(i+1)+cap).attr('y1',i=>y(lo[i])).attr('y2',i=>y(lo[i]));
}

panels.forEach((p,k)=>{
  const [L,R] = colX[p.col], [T,B] = rowY[p.row];
  const n = p.cty.length;
  const x = d3.scaleLinear().domain([0,n+1]).range([L,R]);
  const y = d3.scaleLinear().domain(p.ylim).range([B,T]);
  const g = svg.append('g');
  const cid = 'clip'+k;
  defs.append('clipPath').attr('id',cid).append('rect').attr('x',L).attr('y',T).attr('width',R-L).attr('height',B-T);

  // grid
  const grid = g.append('g').attr('stroke','#e6e6e6').attr('stroke-width',0.8);
  grid.selectAll('line.gv').data(d3.range(1,n+1)).join('line')
    .attr('x1',d=>x(d)).attr('x2',d=>x(d)).attr('y1',T).attr('y2',B);
  grid.selectAll('line.gh').data(p.ticks).join('line')
    .attr('x1',L).attr('x2',R).attr('y1',d=>y(d)).attr('y2',d=>y(d));

  // axes (inward ticks)
  const yAx = g.append('g').attr('transform',`translate(${L},0)`)
    .call(d3.axisLeft(y).tickValues(p.ticks).tickSize(-2.5).tickPadding(6).tickFormat(d3.format('d')));
  yAx.select('.domain').remove();
  yAx.selectAll('line').attr('stroke','#999');
  yAx.selectAll('text').attr('fill','#4a4a4a').style('font-family',FONT).style('font-size','8.5px');
  const yAxR = g.append('g').attr('transform',`translate(${R},0)`)
    .call(d3.axisRight(y).tickValues(p.ticks).tickSize(-2.5).tickFormat(''));
  yAxR.select('.domain').remove(); yAxR.selectAll('line').attr('stroke','#999');
  const xAxT = g.append('g').attr('transform',`translate(0,${T})`)
    .call(d3.axisTop(x).tickValues(d3.range(1,n+1)).tickSize(-2.5).tickFormat(''));
  xAxT.select('.domain').remove(); xAxT.selectAll('line').attr('stroke','#999');
  const xAx = g.append('g').attr('transform',`translate(0,${B})`)
    .call(d3.axisBottom(x).tickValues(d3.range(1,n+1)).tickSize(-2.5).tickPadding(0).tickFormat(i=>p.cty[i-1]));
  xAx.select('.domain').remove(); xAx.selectAll('line').attr('stroke','#999');
  xAx.selectAll('text')
    .attr('fill','#2e2e2e').attr('text-anchor','end').attr('y',0).attr('dy',0)
    .style('font-family',FONT).style('font-size','7.8px')
    .attr('transform','translate(2.7,2.5) scale(1,0.74) rotate(-90)');

  // box
  g.append('rect').attr('x',L).attr('y',T).attr('width',R-L).attr('height',B-T)
    .attr('fill','none').attr('stroke','#a6a6a6').attr('stroke-width',0.8);

  // zero line
  g.append('line').attr('x1',L).attr('x2',R).attr('y1',y(0)).attr('y2',y(0))
    .attr('stroke','#4a4a4a').attr('stroke-width',1.4);

  // bars
  const idx = d3.range(n);
  const dg = g.append('g').attr('clip-path',`url(#${cid})`);
  errBars(dg,x,y,idx,p.lo95,p.hi95,'#111',1.8,1.1);
  errBars(dg,x,y,idx,p.lo68,p.hi68,'#8a8a8a',1.6,1.1);
  dg.selectAll('rect.m').data(idx).join('rect')
    .attr('x',i=>x(i+1)-2).attr('y',i=>y(p.est[i])-2).attr('width',4).attr('height',4)
    .attr('fill',i=>aggregates.includes(p.cty[i])?'#fff':'#8c8c8c')
    .attr('stroke','#3a3a3a').attr('stroke-width',0.7);

  // title
  g.append('text').attr('x',(L+R)/2).attr('y',T-4).attr('text-anchor','middle')
    .style('font-family',FONT).style('font-size','9.5px').style('font-weight','bold').attr('fill','#111')
    .text(p.title);

  // legend
  if(p.legend){
    const lx = L+137, ly = T+3.5, lw = R-4-lx, lh = 27;
    const lg = g.append('g');
    lg.append('rect').attr('x',lx).attr('y',ly).attr('width',lw).attr('height',lh)
      .attr('fill','#fff').attr('stroke','#b0b0b0').attr('stroke-width',0.8);
    legendLabels.forEach((t,j)=>{
      const cy = ly+7+j*13, cx = lx+9, col = j===0?'#8a8a8a':'#111';
      lg.append('line').attr('x1',cx).attr('x2',cx).attr('y1',cy-4.5).attr('y2',cy+4.5).attr('stroke',col).attr('stroke-width',1.1);
      lg.append('line').attr('x1',cx-1.6).attr('x2',cx+1.6).attr('y1',cy-4.5).attr('y2',cy-4.5).attr('stroke',col).attr('stroke-width',1.1);
      lg.append('line').attr('x1',cx-1.6).attr('x2',cx+1.6).attr('y1',cy+4.5).attr('y2',cy+4.5).attr('stroke',col).attr('stroke-width',1.1);
      lg.append('rect').attr('x',cx-1.8).attr('y',cy-1.8).attr('width',3.6).attr('height',3.6)
        .attr('fill','#8c8c8c').attr('stroke','#3a3a3a').attr('stroke-width',0.6);
      lg.append('text').attr('x',lx+18).attr('y',cy+3.6)
        .style('font-family',FONT).style('font-size','10.3px').attr('fill','#111').text(t);
    });
  }
});

// captions
const capPos = [[200,421],[810,421],[200,846],[810,846]];
captions.forEach((t,i)=>{
  svg.append('text').attr('x',capPos[i][0]).attr('y',capPos[i][1])
    .style('font-family',"'Liberation Serif','DejaVu Serif',serif").style('font-size','18px').attr('fill','#000').text(t);
});
</script>
</body></html>
